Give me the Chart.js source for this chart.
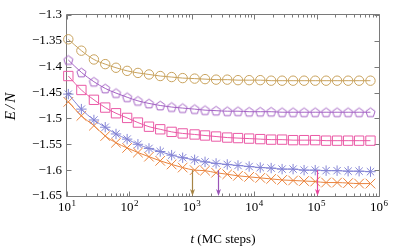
<!DOCTYPE html>
<html><head><meta charset="utf-8">
<script src="https://cdn.jsdelivr.net/npm/chart.js@4/dist/chart.umd.min.js"></script>
<style>html,body{margin:0;padding:0;background:#fff}#wrap{width:400px;height:250px}</style>
</head><body><div id="wrap"><canvas id="c" width="400" height="250"></canvas></div>
<script>
// ---- data ----
const mcSteps = [10.5, 17, 27, 41, 61, 92, 137, 206, 312, 475, 714, 1110, 1630, 2450, 3700, 5500, 8300, 12500, 18700, 28000, 42000, 63000, 95000, 142000, 213000, 320000, 480000, 730000];
const circleSeries = [-1.347, -1.369, -1.386, -1.395, -1.402, -1.408, -1.412, -1.415, -1.418, -1.420, -1.422, -1.423, -1.424, -1.425, -1.425, -1.426, -1.426, -1.426, -1.427, -1.427, -1.427, -1.427, -1.427, -1.427, -1.427, -1.427, -1.427, -1.427];
const pentagonSeries = [-1.387, -1.411, -1.429, -1.442, -1.451, -1.459, -1.466, -1.471, -1.475, -1.478, -1.480, -1.482, -1.484, -1.485, -1.486, -1.486, -1.487, -1.487, -1.487, -1.488, -1.488, -1.488, -1.488, -1.488, -1.488, -1.488, -1.488, -1.488];
const squareSeries = [-1.418, -1.445, -1.464, -1.479, -1.490, -1.499, -1.508, -1.516, -1.521, -1.526, -1.529, -1.531, -1.533, -1.535, -1.537, -1.538, -1.539, -1.540, -1.541, -1.541, -1.542, -1.542, -1.542, -1.543, -1.543, -1.543, -1.543, -1.543];
const asteriskSeries = [-1.453, -1.482, -1.503, -1.517, -1.530, -1.540, -1.550, -1.558, -1.564, -1.571, -1.576, -1.580, -1.584, -1.587, -1.589, -1.591, -1.593, -1.595, -1.596, -1.598, -1.598, -1.600, -1.600, -1.601, -1.601, -1.602, -1.602, -1.603];
const crossSeries = [-1.468, -1.495, -1.514, -1.534, -1.547, -1.557, -1.566, -1.574, -1.582, -1.589, -1.595, -1.600, -1.601, -1.605, -1.608, -1.611, -1.613, -1.615, -1.617, -1.619, -1.620, -1.621, -1.622, -1.624, -1.624, -1.625, -1.626, -1.626];
const yTicks = [-1.65, -1.6, -1.55, -1.5, -1.45, -1.4, -1.35, -1.3];
const xTickExponents = [1, 2, 3, 4, 5, 6];
const arrowSteps = [1000, 2600, 100000];
const arrowFrom = -1.6;
const arrowTo = -1.65;
const arrowColors = ['#a68445', '#9a55b8', '#e6459c'];
const xTitleItalic = 't';
const xTitleRest = ' (MC steps)';
const yTitle = 'E/N';

const FONT = '"Liberation Serif", "DejaVu Serif", serif';

function pentagonCanvas(color, r) {
  const s = Math.ceil(r * 2 + 3);
  const cv = document.createElement('canvas');
  cv.width = s; cv.height = s;
  const g = cv.getContext('2d');
  g.strokeStyle = color; g.lineWidth = 1;
  g.beginPath();
  for (let i = 0; i < 5; i++) {
    const a = -Math.PI / 2 + i * 2 * Math.PI / 5;
    const px = s / 2 + r * Math.cos(a), py = s / 2 + r * Math.sin(a) + 0.5;
    if (i === 0) g.moveTo(px, py); else g.lineTo(px, py);
  }
  g.closePath(); g.stroke();
  return cv;
}

function mkData(vals) { return mcSteps.map((t, i) => ({x: t, y: vals[i]})); }

function ds(vals, color, style, radius) {
  return {
    data: mkData(vals), borderColor: color, backgroundColor: 'rgba(0,0,0,0)',
    pointBorderColor: color, pointBackgroundColor: 'rgba(0,0,0,0)',
    borderWidth: 1, pointBorderWidth: 1, pointStyle: style, pointRadius: radius,
    cubicInterpolationMode: 'monotone', clip: false
  };
}

const framePlugin = {
  id: 'frame',
  beforeDatasetsDraw(chart) {
    const {ctx, chartArea: a, scales: {x, y}} = chart;
    const L = Math.round(a.left) - 0.5, R = Math.round(a.right) + 0.5;
    const T = Math.round(a.top) - 0.5, B = Math.round(a.bottom) + 0.5;
    ctx.save();
    ctx.strokeStyle = '#7a7a7a'; ctx.lineWidth = 1;
    ctx.beginPath();
    ctx.rect(L, T, R - L, B - T);
    yTicks.forEach(v => {
      const py = Math.round(y.getPixelForValue(v)) + 0.5;
      ctx.moveTo(L, py); ctx.lineTo(L + 5, py);
      ctx.moveTo(R, py); ctx.lineTo(R - 5, py);
    });
    xTickExponents.forEach(e => {
      const px = Math.round(x.getPixelForValue(Math.pow(10, e))) + 0.5;
      ctx.moveTo(px, B); ctx.lineTo(px, B - 5);
      ctx.moveTo(px, T); ctx.lineTo(px, T + 5);
      if (e < xTickExponents[xTickExponents.length - 1]) {
        for (let m = 2; m <= 9; m++) {
          const qx = Math.round(x.getPixelForValue(m * Math.pow(10, e))) + 0.5;
          ctx.moveTo(qx, B); ctx.lineTo(qx, B - 3);
          ctx.moveTo(qx, T); ctx.lineTo(qx, T + 3);
        }
      }
    });
    ctx.stroke();
    ctx.restore();
  },
  afterDatasetsDraw(chart) {
    const {ctx, scales: {x, y}} = chart;
    ctx.save();
    arrowSteps.forEach((t, i) => {
      const px = Math.round(x.getPixelForValue(t)) + 0.5;
      const y0 = y.getPixelForValue(arrowFrom), y1 = y.getPixelForValue(arrowTo);
      ctx.strokeStyle = arrowColors[i]; ctx.fillStyle = arrowColors[i];
      ctx.lineWidth = 1.2;
      ctx.beginPath(); ctx.moveTo(px, y0); ctx.lineTo(px, y1 - 3); ctx.stroke();
      ctx.beginPath(); ctx.moveTo(px - 2.5, y1 - 7); ctx.lineTo(px, y1); ctx.lineTo(px + 2.5, y1 - 7);
      ctx.lineTo(px, y1 - 5); ctx.closePath(); ctx.fill();
    });
    ctx.restore();
  },
  afterDraw(chart) {
    const {ctx, chartArea: a, scales: {x}} = chart;
    ctx.save();
    ctx.fillStyle = '#000';
    ctx.textBaseline = 'alphabetic';
    xTickExponents.forEach(e => {
      const px = x.getPixelForValue(Math.pow(10, e));
      ctx.font = '13px ' + FONT;
      const w1 = ctx.measureText('10').width;
      ctx.font = '9px ' + FONT;
      const w2 = ctx.measureText(String(e)).width;
      const start = px - (w1 + w2 + 0.5) / 2;
      ctx.font = '13px ' + FONT;
      ctx.textAlign = 'left';
      ctx.fillText('10', start, 211);
      ctx.font = '9px ' + FONT;
      ctx.fillText(String(e), start + w1 + 0.5, 205.5);
    });
    ctx.font = 'italic 13px ' + FONT;
    const wi = ctx.measureText(xTitleItalic).width;
    ctx.font = '13px ' + FONT;
    const wr = ctx.measureText(xTitleRest).width;
    const cx = (a.left + a.right) / 2;
    const sx = cx - (wi + wr) / 2;
    ctx.font = 'italic 13px ' + FONT;
    ctx.fillText(xTitleItalic, sx, 243);
    ctx.font = '13px ' + FONT;
    ctx.fillText(xTitleRest, sx + wi, 243);
    ctx.translate(15, (a.top + a.bottom) / 2);
    ctx.rotate(-Math.PI / 2);
    ctx.font = 'italic 15px ' + FONT;
    ctx.textAlign = 'center';
    if ('letterSpacing' in ctx) ctx.letterSpacing = '2px';
    ctx.fillText(yTitle, 0, 0);
    ctx.restore();
  }
};

new Chart(document.getElementById('c'), {
  type: 'line',
  data: {
    datasets: [
      ds(circleSeries, '#c9a35e', 'circle', 4.7),
      ds(pentagonSeries, '#a463c4', pentagonCanvas('#a463c4', 4.8), 4.5),
      ds(squareSeries, '#ea5aa6', 'rect', 6.6),
      ds(asteriskSeries, '#8585d6', 'star', 5.2),
      ds(crossSeries, '#ea843e', 'crossRot', 6.8)
    ]
  },
  options: {
    responsive: false, animation: false, devicePixelRatio: 1,
    layout: {padding: {top: 15, right: 21, bottom: 0, left: 0}},
    plugins: {legend: {display: false}, tooltip: {enabled: false}},
    scales: {
      x: {
        type: 'logarithmic', min: 10, max: 1e6,
        ticks: {display: false}, grid: {display: false, drawTicks: false}, border: {display: false},
        afterFit: s => { s.height = 54; }
      },
      y: {
        type: 'linear', min: -1.65, max: -1.3,
        afterBuildTicks: s => { s.ticks = yTicks.map(v => ({value: v})); },
        ticks: {
          padding: 5, color: '#000', font: {family: FONT, size: 13},
          callback: v => '\u2212' + String(Number(Math.abs(v).toFixed(2)))
        },
        grid: {display: false, drawTicks: false}, border: {display: false},
        afterFit: s => { s.width = 67; }
      }
    }
  },
  plugins: [framePlugin]
});
</script>
</body></html>
